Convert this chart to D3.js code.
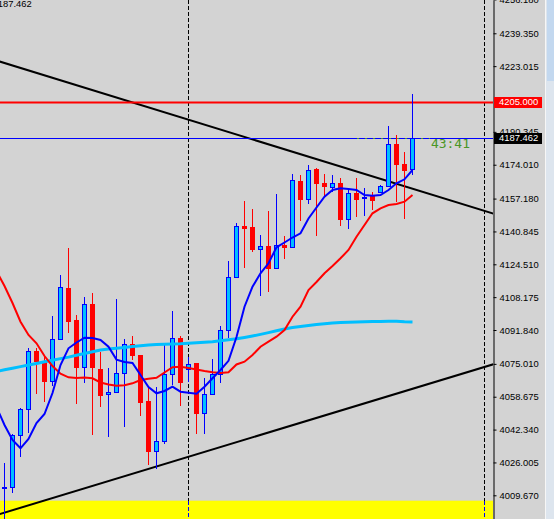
<!DOCTYPE html>
<html>
<head>
<meta charset="utf-8">
<script src="https://cdn.jsdelivr.net/npm/d3@7"></script>
<style>
  body { margin: 0; background: #d3d3d3; overflow: hidden; }
  svg { display: block; }
</style>
</head>
<body>
<svg id="chart"></svg>
<script>
// bar 0 sits just past the left edge, the MAs start from it
var opens  = [4022.00, 4013.40, 4013.65, 4039.50, 4052.72, 4081.41, 4076.29, 4066.64, 4087.22, 4112.88,
              4096.82, 4073.60, 4104.77, 4072.46, 4059.88, 4060.88, 4070.47, 4084.74, 4079.27, 4056.55,
              4031.84, 4036.52, 4069.82, 4087.72, 4072.31, 4075.29, 4050.44, 4059.88, 4069.97, 4091.70,
              4118.40, 4143.55, 4143.05, 4132.26, 4133.46, 4122.82, 4133.96, 4133.11, 4165.92, 4157.12,
              4171.89, 4165.08, 4163.09, 4164.78, 4147.18, 4159.81, 4157.32, 4158.61, 4160.30, 4163.29,
              4184.17, 4174.52, 4171.74];
var highs  = [4026.00, 4025.58, 4040.39, 4053.07, 4082.75, 4082.75, 4078.57, 4098.81, 4119.19, 4132.61,
              4099.30, 4108.40, 4110.24, 4081.06, 4073.11, 4107.11, 4087.22, 4088.86, 4079.50, 4062.86,
              4063.51, 4084.39, 4101.29, 4088.72, 4078.42, 4075.60, 4067.84, 4077.28, 4093.98, 4126.15,
              4144.89, 4156.13, 4152.00, 4139.22, 4151.01, 4159.61, 4138.43, 4169.25, 4168.90, 4173.63,
              4172.40, 4169.25, 4168.90, 4167.41, 4162.29, 4167.41, 4162.29, 4160.60, 4164.08, 4193.41,
              4188.79, 4180.49, 4209.17];
var lows   = [4008.00, 3996.40, 4010.66, 4028.56, 4040.49, 4059.88, 4056.20, 4064.16, 4086.87, 4090.21,
              4055.06, 4065.65, 4039.65, 4053.72, 4038.80, 4060.38, 4043.77, 4076.93, 4049.09, 4024.73,
              4022.50, 4035.17, 4064.26, 4054.06, 4066.15, 4040.14, 4040.14, 4059.60, 4065.65, 4088.02,
              4118.00, 4122.52, 4130.77, 4108.90, 4110.89, 4122.02, 4127.29, 4132.46, 4146.18, 4154.49,
              4138.58, 4157.72, 4160.60, 4143.70, 4142.21, 4148.17, 4148.67, 4151.65, 4160.10, 4162.79,
              4155.63, 4147.18, 4169.05];
var closes = [4013.40, 4013.90, 4039.50, 4052.72, 4081.41, 4076.29, 4066.64, 4087.22, 4113.22, 4096.47,
              4073.60, 4104.77, 4073.45, 4059.53, 4060.88, 4070.47, 4084.74, 4079.27, 4056.20, 4031.84,
              4036.52, 4069.82, 4087.72, 4066.15, 4075.19, 4050.44, 4059.88, 4069.97, 4091.70, 4118.40,
              4143.55, 4142.70, 4132.26, 4133.46, 4122.82, 4133.96, 4133.11, 4166.27, 4157.12, 4171.29,
              4165.08, 4163.19, 4164.78, 4147.18, 4159.81, 4157.12, 4157.97, 4156.62, 4163.29, 4184.17,
              4174.52, 4171.54, 4187.462];

var maFast = [4053.57, 4044.62, 4037.16, 4033.04, 4037.66, 4045.61, 4050.09, 4060.53, 4074.45, 4082.75,
              4085.63, 4088.02, 4087.87, 4086.87, 4083.54, 4077.13, 4075.94, 4075.44, 4069.48, 4063.51,
              4060.38, 4061.52, 4063.66, 4061.17, 4060.68, 4060.18, 4063.66, 4067.84, 4071.96, 4076.54,
              4088.37, 4103.43, 4113.37, 4120.04, 4125.01, 4132.96, 4135.35, 4137.83, 4139.92, 4147.28,
              4152.75, 4158.12, 4161.45, 4162.29, 4161.94, 4161.45, 4158.96, 4158.61, 4158.96, 4161.45,
              4164.78, 4166.77, 4171.39];
var maSlow = [4121.18, 4113.72, 4105.27, 4095.97, 4089.36, 4085.24, 4078.92, 4073.95, 4070.12, 4068.33,
              4067.98, 4068.23, 4067.84, 4065.75, 4064.75, 4064.11, 4064.36, 4065.35, 4066.99, 4067.59,
              4068.08, 4070.72, 4073.35, 4073.60, 4072.96, 4072.21, 4071.46, 4070.82, 4070.47, 4070.87,
              4074.70, 4076.09, 4079.42, 4083.54, 4086.03, 4088.52, 4091.85, 4098.46, 4103.43, 4111.73,
              4115.71, 4120.04, 4123.67, 4127.49, 4131.62, 4138.23, 4144.05, 4149.86, 4152.35, 4153.99,
              4154.49, 4155.63, 4158.96];
var maLong = [4071.22, 4072.06, 4072.86, 4073.65, 4074.45, 4075.24, 4076.04, 4076.83, 4077.63, 4078.37,
              4079.27, 4080.12, 4081.01, 4081.90, 4082.35, 4082.80, 4083.20, 4083.64, 4084.04, 4084.34,
              4084.59, 4084.79, 4084.89, 4084.99, 4085.24, 4085.53, 4085.78, 4086.03, 4086.48, 4086.98,
              4087.47, 4088.12, 4088.86, 4089.66, 4090.55, 4091.50, 4092.34, 4093.04, 4093.64, 4094.08,
              4094.53, 4094.93, 4095.28, 4095.53, 4095.73, 4095.88, 4095.97, 4096.07, 4096.07, 4096.22,
              4096.17, 4095.92, 4095.82];

var tickLabels = ["4256.180", "4239.350", "4223.015", "4190.345", "4174.010", "4157.180", "4140.845",
                  "4124.510", "4108.175", "4091.840", "4075.010", "4058.675", "4042.340", "4026.005", "4009.670"];

var resistance = 4205.000;
var bidPrice = 4187.462;
var timerText = "43:41";
var separatorBars = [24, 61];
var trendDown = [[0, 4225.78], [63, 4148.60]];
var trendUp = [[0, 3999.85], [63, 4075.89]];
var yellowZone = [3985.00, 4007.00];
var timerLine = [[45, 4187.00], [54.2, 4187.00]];

var width = 554, height = 519, plotW = 493;
var labelFont = "Liberation Sans, Arial, sans-serif";

var svg = d3.select("#chart").attr("width", width).attr("height", height);

svg.append("rect").attr("width", width).attr("height", height).attr("fill", "#d3d3d3");

svg.append("clipPath").attr("id", "plot")
  .append("rect").attr("width", plotW).attr("height", height);

var x = d3.scaleLinear().domain([0, 52]).range([-3.5, 412.5]);
var y = d3.scaleLinear().domain([3997.89, 4255.90]).range([height, 0]);

var g = svg.append("g").attr("clip-path", "url(#plot)");

// yellow zone at the bottom
g.append("rect")
  .attr("x", 0).attr("width", plotW)
  .attr("y", y(yellowZone[1])).attr("height", y(yellowZone[0]) - y(yellowZone[1]))
  .attr("fill", "#ffff00");

// period separators (they turn blue over the yellow)
separatorBars.forEach(function(b) {
  var sx = x(b);
  g.append("line")
    .attr("x1", sx).attr("x2", sx).attr("y1", 0).attr("y2", y(yellowZone[1]))
    .attr("stroke", "#000").attr("stroke-dasharray", "4,2").attr("shape-rendering", "crispEdges");
  g.append("line")
    .attr("x1", sx).attr("x2", sx).attr("y1", y(yellowZone[1])).attr("y2", height)
    .attr("stroke", "#0000ff").attr("stroke-dasharray", "4,2").attr("shape-rendering", "crispEdges");
});

// trend lines
var tline = d3.line().x(function(d) { return x(d[0]); }).y(function(d) { return y(d[1]); });
[trendDown, trendUp].forEach(function(t) {
  g.append("path").attr("d", tline(t))
    .attr("fill", "none").attr("stroke", "#000").attr("stroke-width", 2);
});

// horizontal levels
g.append("line")
  .attr("x1", 0).attr("x2", plotW).attr("y1", y(resistance)).attr("y2", y(resistance))
  .attr("stroke", "#ff0000").attr("stroke-width", 2);
var by = Math.round(y(bidPrice)) + 0.5;
g.append("line")
  .attr("x1", 0).attr("x2", plotW).attr("y1", by).attr("y2", by)
  .attr("stroke", "#0000ff").attr("stroke-width", 1).attr("shape-rendering", "crispEdges");

g.append("path").attr("d", tline(timerLine))
  .attr("fill", "none").attr("stroke", "#4f9a2a").attr("stroke-dasharray", "2,6")
  .attr("shape-rendering", "crispEdges");

// candles
var cg = g.append("g").attr("shape-rendering", "crispEdges");
opens.forEach(function(o, i) {
  var c = closes[i], up = c >= o;
  var cx = x(i);
  var col = up ? "#0000ff" : "#ff0000";
  cg.append("line")
    .attr("x1", cx).attr("x2", cx)
    .attr("y1", Math.round(y(highs[i]))).attr("y2", Math.round(y(lows[i])))
    .attr("stroke", col);
  var top = Math.round(y(Math.max(o, c))), bot = Math.round(y(Math.min(o, c)));
  cg.append("rect")
    .attr("x", cx - 2).attr("width", 4)
    .attr("y", top + 0.5).attr("height", Math.max(bot - top, 1))
    .attr("fill", up ? "#00bfff" : "#ff0000")
    .attr("stroke", col);
});

// moving averages
var maLine = d3.line().x(function(d, i) { return x(i); }).y(function(d) { return y(d); });
g.append("path").attr("d", maLine(maLong))
  .attr("fill", "none").attr("stroke", "#00bfff").attr("stroke-width", 3);
g.append("path").attr("d", maLine(maSlow))
  .attr("fill", "none").attr("stroke", "#ff0000").attr("stroke-width", 2);
g.append("path").attr("d", maLine(maFast))
  .attr("fill", "none").attr("stroke", "#0000ff").attr("stroke-width", 2);

// countdown
g.append("text")
  .attr("x", x(54.3)).attr("y", y(bidPrice) + 10.5)
  .attr("font-family", "DejaVu Sans Mono, monospace").attr("font-size", "13px")
  .attr("fill", "#4a9626")
  .text(timerText);

g.append("text")
  .attr("x", 31.7).attr("y", 7.3).attr("text-anchor", "end")
  .attr("font-family", labelFont).attr("font-size", "9.4px")
  .attr("fill", "#000")
  .text(bidPrice.toFixed(3));

// price axis
var axis = d3.axisRight(y)
  .tickValues(tickLabels.map(Number))
  .tickFormat(function(d, i) { return tickLabels[i]; })
  .tickSize(3).tickPadding(3).tickSizeOuter(0);

var ax = svg.append("g").attr("transform", "translate(493.5,0)").call(axis);
ax.select(".domain").attr("stroke", "#000");
ax.selectAll(".tick line").attr("stroke", "#000");
ax.selectAll(".tick text")
  .attr("font-family", labelFont).attr("font-size", "9.4px")
  .attr("fill", "#000");

// price tags
[[resistance, "#ff0000"], [bidPrice, "#000000"]].forEach(function(p) {
  var py = y(p[0]);
  svg.append("rect")
    .attr("x", 494).attr("y", Math.round(py) - 5).attr("width", 48).attr("height", 11)
    .attr("fill", p[1]);
  svg.append("text")
    .attr("x", 499).attr("y", py).attr("dy", "0.32em")
    .attr("font-family", labelFont).attr("font-size", "9.4px")
    .attr("fill", "#fff")
    .text(p[0].toFixed(3));
});

// scrollbar strip
svg.append("rect").attr("x", 545).attr("y", 0).attr("width", 9).attr("height", height).attr("fill", "#dde5ee");
svg.append("rect").attr("x", 547).attr("y", 0).attr("width", 7).attr("height", 81).attr("fill", "#c3d8ef");
svg.append("line").attr("x1", 545.5).attr("x2", 545.5).attr("y1", 0).attr("y2", height)
  .attr("stroke", "#f6f6f6");
</script>
</body>
</html>
